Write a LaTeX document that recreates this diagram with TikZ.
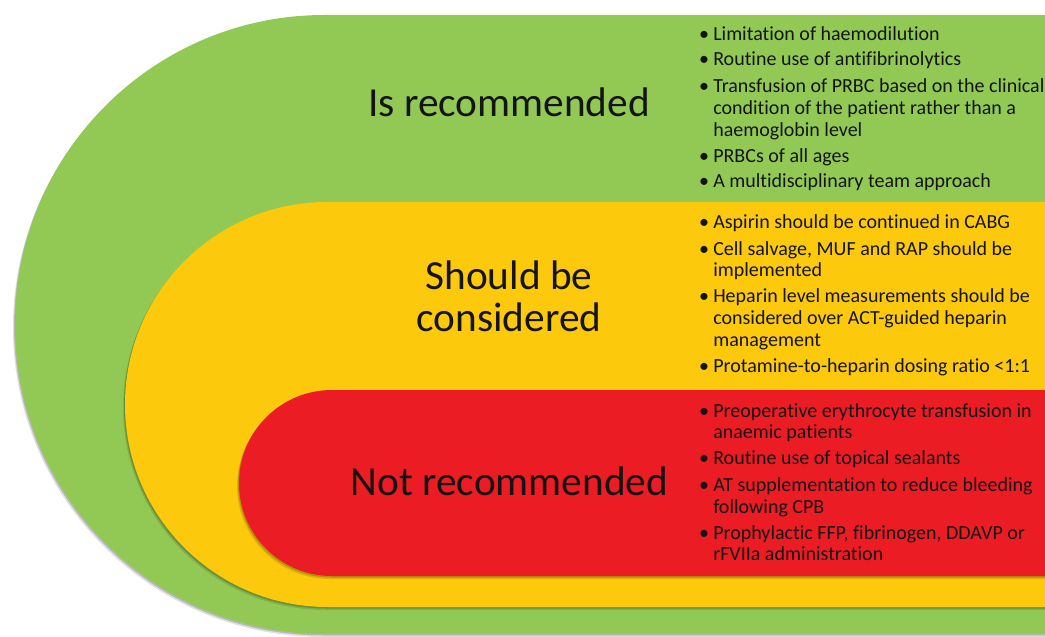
\documentclass[tikz,border=0pt]{standalone}
\usepackage{fontspec}
\setmainfont{Carlito}[Ligatures={NoCommon}]
\definecolor{gr}{HTML}{92C955}
\definecolor{ye}{HTML}{FCC90C}
\definecolor{rd}{HTML}{EC1C24}
\definecolor{tx}{HTML}{141414}
\newcommand\mystad[5]{%
  \fill[black,opacity=0.12] (1100,#2-3) -- (#1-2,#2-3) arc[start angle=90,end angle=270,radius=#4] -- (1100,#3-3) -- cycle;
  \fill[black,opacity=0.18] (1100,#2-1.5) -- (#1-1,#2-1.5) arc[start angle=90,end angle=270,radius=#4] -- (1100,#3-1.5) -- cycle;
  \fill[#5] (1100,#2) -- (#1,#2) arc[start angle=90,end angle=270,radius=#4] -- (1100,#3) -- cycle;}
\begin{document}
\begin{tikzpicture}[x=0.75pt,y=0.75pt,
  lbl/.style={font=\fontsize{31}{42}\selectfont, text=tx, inner sep=0pt, anchor=base},
  itm/.style={font=\fontsize{15}{20}\selectfont, text=tx, inner sep=0pt, anchor=base west},
  bul/.style={font=\fontsize{15}{20}\selectfont, text=tx, inner sep=0pt, anchor=base}]
\useasboundingbox (0,0) rectangle (1045,636);
\clip (0,0) rectangle (1045,636);
% nested stadium shapes
\mystad{324.5}{621}{2}{309.5}{gr}
\mystad{327.5}{434}{29}{202.5}{ye}
\mystad{332}{246}{60}{93}{rd}
% labels
\node[lbl] (l1) at (509,519) {Is recommended};
\node[lbl] (l2a) at (509,346) {Should be};
\node[lbl] (l2b) at (509,304) {considered};
\node[lbl] (l3) at (509.5,141) {Not recommended};
% green items
\foreach \y/\t [count=\i] in {595/{Limitation of haemodilution},
  570/{Routine use of antifibrinolytics},
  543/{Transfusion of PRBC based on the clinical},
  521/{condition of the patient rather than a},
  499/{haemoglobin level},
  473/{PRBCs of all ages},
  448/{A multidisciplinary team approach}}
  \node[itm] (g\i) at (713,\y) {\t};
\foreach \y [count=\i] in {595,570,543,473,448}
  \node[bul] (gb\i) at (704,\y) {•};
% yellow items
\foreach \y/\t [count=\i] in {407/{Aspirin should be continued in CABG},
  380/{Cell salvage, MUF and RAP should be},
  359/{implemented},
  333/{Heparin level measurements should be},
  311/{considered over ACT-guided heparin},
  289/{management},
  263/{Protamine-to-heparin dosing ratio <1:1}}
  \node[itm] (y\i) at (713,\y) {\t};
\foreach \y [count=\i] in {407,380,333,263}
  \node[bul] (yb\i) at (704,\y) {•};
% red items
\foreach \y/\t [count=\i] in {219/{Preoperative erythrocyte transfusion in},
  198/{anaemic patients},
  172/{Routine use of topical sealants},
  145/{AT supplementation to reduce bleeding},
  123/{following CPB},
  97/{Prophylactic FFP, fibrinogen, DDAVP or},
  76/{rFVIIa administration}}
  \node[itm] (r\i) at (713,\y) {\t};
\foreach \y [count=\i] in {219,172,145,97}
  \node[bul] (rb\i) at (704,\y) {•};
\end{tikzpicture}
\end{document}
